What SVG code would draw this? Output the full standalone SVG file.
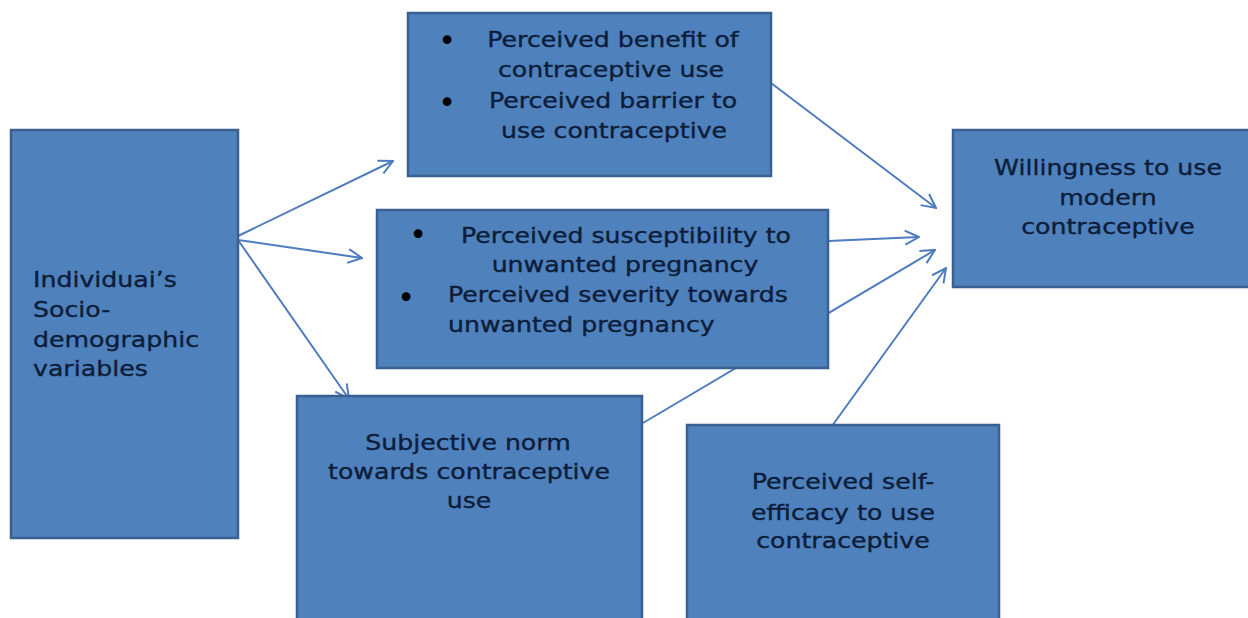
<svg xmlns="http://www.w3.org/2000/svg" width="1248" height="618" viewBox="0 0 1248 618">
<style>
.box{fill:#4f81bd;stroke:#3a6091;stroke-width:2.5}
.t{font-family:"DejaVu Sans",Verdana,sans-serif;font-size:21px;fill:#0c1d3a;stroke:#0c1d3a;stroke-width:0.35}
.c{text-anchor:middle}
.b{font-family:"DejaVu Sans",Verdana,sans-serif;font-size:30px;fill:#000;text-anchor:middle}
.conn{stroke:#4f7bbf;stroke-width:2;fill:none;marker-end:url(#arr)}
</style>
<defs>
<marker id="arr" viewBox="0 0 16 16" refX="15" refY="8" markerWidth="16" markerHeight="16" markerUnits="userSpaceOnUse" orient="auto">
<path d="M1,1 L15,8 L1,15" fill="none" stroke="#4f7bbf" stroke-width="2"/>
</marker>
</defs>
<rect width="1248" height="618" fill="#fff"/>
<g id="connectors">
<line class="conn" x1="238" y1="236" x2="393" y2="161"/>
<line class="conn" x1="238" y1="240" x2="362" y2="258"/>
<line class="conn" x1="238" y1="240" x2="349" y2="399"/>
<line class="conn" x1="771" y1="83" x2="936" y2="208"/>
<line class="conn" x1="828" y1="241" x2="919" y2="237"/>
<line class="conn" x1="643" y1="423" x2="935" y2="250"/>
<line class="conn" x1="832" y1="426" x2="946" y2="268"/>
</g>
<g id="n-socio">
<rect class="box" x="11" y="130" width="227" height="408"/>
<text class="t" transform="translate(33,287) scale(1.2,1)">Individuai’s</text>
<text class="t" transform="translate(33,317) scale(1.2,1)">Socio-</text>
<text class="t" transform="translate(33,347) scale(1.2,1)">demographic</text>
<text class="t" transform="translate(33,376) scale(1.2,1)">variables</text>
</g>
<g id="n-benefit">
<rect class="box" x="408" y="13" width="363" height="163"/>
<text class="b" x="447" y="51">•</text>
<text class="t c" transform="translate(613,47) scale(1.2,1)">Perceived benefit of</text>
<text class="t c" transform="translate(611,77) scale(1.2,1)">contraceptive use</text>
<text class="b" x="447" y="113">•</text>
<text class="t c" transform="translate(613,108) scale(1.2,1)">Perceived barrier to</text>
<text class="t c" transform="translate(614,138) scale(1.2,1)">use contraceptive</text>
</g>
<g id="n-susceptibility">
<rect class="box" x="377" y="210" width="451" height="158"/>
<text class="b" x="418" y="245">•</text>
<text class="t c" transform="translate(626,243) scale(1.2,1)">Perceived susceptibility to</text>
<text class="t c" transform="translate(625,272) scale(1.2,1)">unwanted pregnancy</text>
<text class="b" x="406" y="308">•</text>
<text class="t" transform="translate(448,302) scale(1.2,1)">Perceived severity towards</text>
<text class="t" transform="translate(448,332) scale(1.2,1)">unwanted pregnancy</text>
</g>
<g id="n-norm">
<rect class="box" x="297" y="396" width="345" height="232"/>
<text class="t c" transform="translate(468,450) scale(1.2,1)">Subjective norm</text>
<text class="t c" transform="translate(469,479) scale(1.2,1)">towards contraceptive</text>
<text class="t c" transform="translate(469,508) scale(1.2,1)">use</text>
</g>
<g id="n-selfefficacy">
<rect class="box" x="687" y="425" width="312" height="203"/>
<text class="t c" transform="translate(843,489) scale(1.2,1)">Perceived self-</text>
<text class="t c" transform="translate(843,520) scale(1.2,1)">efficacy to use</text>
<text class="t c" transform="translate(843,548) scale(1.2,1)">contraceptive</text>
</g>
<g id="n-willingness">
<rect class="box" x="953" y="130" width="300" height="157"/>
<text class="t c" transform="translate(1108,175) scale(1.2,1)">Willingness to use</text>
<text class="t c" transform="translate(1108,205) scale(1.2,1)">modern</text>
<text class="t c" transform="translate(1108,234) scale(1.2,1)">contraceptive</text>
</g>
</svg>
